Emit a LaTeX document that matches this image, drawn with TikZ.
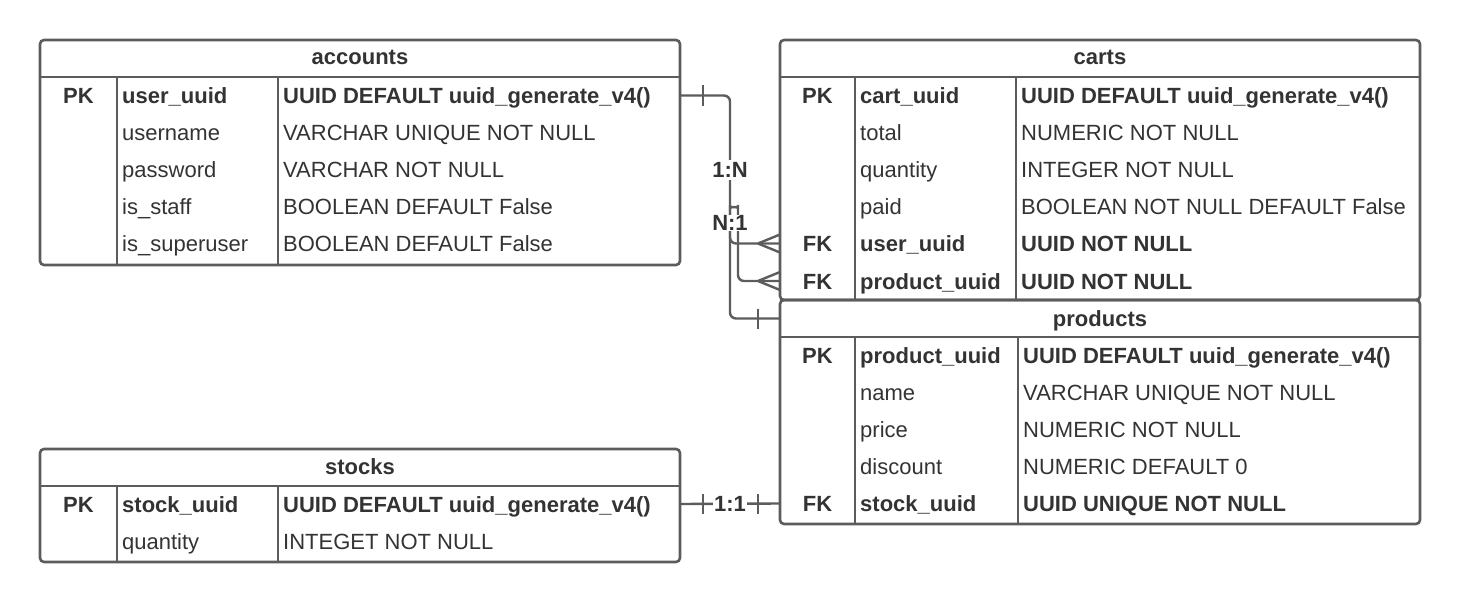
\documentclass[tikz,border=0pt]{standalone}
\usepackage{fontspec}
\setmainfont{Liberation Sans}
\begin{document}
\definecolor{linec}{RGB}{92,92,92}
\definecolor{txt}{RGB}{51,51,51}
\newcommand\erfont{\fontsize{22}{26}\selectfont}
\tikzset{
  frame/.style={draw=linec, line width=2.6pt, rounded corners=4pt},
  grid/.style={draw=linec, line width=2.6pt},
  conn/.style={draw=linec, line width=2.4pt, rounded corners=6pt},
  tick/.style={draw=linec, line width=2.4pt},
  rowbox/.style={anchor=west, inner sep=0pt, minimum height=37pt},
  celltxt/.style={anchor=base west, inner sep=0pt, text=txt, font=\erfont},
  keytxt/.style={anchor=base, inner sep=0pt, text=txt, font=\erfont\bfseries},
  titletxt/.style={anchor=base, inner sep=0pt, text=txt, font=\erfont\bfseries},
  reltxt/.style={fill=white, inner sep=2pt, text=txt, font=\erfont\bfseries},
}
% one table row: prefix, index, y centre, key, column name, column type
\newcommand\erow[6]{%
  \node[rowbox, minimum width={(\xd-\xa)*1pt}] (#1-#2) at (\xa,#3) {};
  \node[keytxt] (#1-#2-k) at ({(\xa+\xb)/2},{#3+8}) {#4};
  \node[celltxt] (#1-#2-n) at ({\xb+5},{#3+8}) {#5};
  \node[celltxt] (#1-#2-t) at ({\xc+5},{#3+8}) {#6};
}
\begin{tikzpicture}[x=1pt, y=-1pt]
\useasboundingbox (0,0) rectangle (1460,602);

% accounts
\def\xa{40}\def\xb{117}\def\xc{278}\def\xd{680}
\draw[frame] (\xa,40) rectangle (\xd,265);
\draw[grid] (\xa,77) -- (\xd,77) (\xb,77) -- (\xb,265) (\xc,77) -- (\xc,265);
\node[titletxt] (acc-h) at (360,65) {accounts};
\erow{acc}{1}{95.5}{PK}{\textbf{user\_uuid}}{\textbf{UUID DEFAULT uuid\_generate\_v4()}}
\erow{acc}{2}{132.5}{}{username}{VARCHAR UNIQUE NOT NULL}
\erow{acc}{3}{169.5}{}{password}{VARCHAR NOT NULL}
\erow{acc}{4}{206.5}{}{is\_staff}{BOOLEAN DEFAULT False}
\erow{acc}{5}{243.5}{}{is\_superuser}{BOOLEAN DEFAULT False}

% stocks
\draw[frame] (\xa,449) rectangle (\xd,562);
\draw[grid] (\xa,486) -- (\xd,486) (\xb,486) -- (\xb,562) (\xc,486) -- (\xc,562);
\node[titletxt] (st-h) at (360,474) {stocks};
\erow{st}{1}{504}{PK}{\textbf{stock\_uuid}}{\textbf{UUID DEFAULT uuid\_generate\_v4()}}
\erow{st}{2}{541}{}{quantity}{INTEGET NOT NULL}

% carts
\def\xa{780}\def\xb{855}\def\xc{1016}\def\xd{1420}
\draw[frame] (\xa,40) rectangle (\xd,300);
\draw[grid] (\xa,77) -- (\xd,77) (\xb,77) -- (\xb,300) (\xc,77) -- (\xc,300);
\node[titletxt] (cart-h) at (1100,65) {carts};
\erow{cart}{1}{95.5}{PK}{\textbf{cart\_uuid}}{\textbf{UUID DEFAULT uuid\_generate\_v4()}}
\erow{cart}{2}{132.5}{}{total}{NUMERIC NOT NULL}
\erow{cart}{3}{169.5}{}{quantity}{INTEGER NOT NULL}
\erow{cart}{4}{206.5}{}{paid}{BOOLEAN NOT NULL DEFAULT False}
\erow{cart}{5}{243.5}{FK}{\textbf{user\_uuid}}{\textbf{UUID NOT NULL}}
\erow{cart}{6}{281}{FK}{\textbf{product\_uuid}}{\textbf{UUID NOT NULL}}

% products
\def\xc{1018}
\draw[frame] (\xa,300) rectangle (\xd,524);
\draw[grid] (\xa,337) -- (\xd,337) (\xb,337) -- (\xb,524) (\xc,337) -- (\xc,524);
\node[rowbox, minimum width=640pt] (prod-hr) at (780,318.5) {};
\node[titletxt] (prod-h) at (1100,326) {products};
\erow{prod}{1}{355.5}{PK}{\textbf{product\_uuid}}{\textbf{UUID DEFAULT uuid\_generate\_v4()}}
\erow{prod}{2}{392.5}{}{name}{VARCHAR UNIQUE NOT NULL}
\erow{prod}{3}{429.5}{}{price}{NUMERIC NOT NULL}
\erow{prod}{4}{466.5}{}{discount}{NUMERIC DEFAULT 0}
\erow{prod}{5}{503.5}{FK}{\textbf{stock\_uuid}}{\textbf{UUID UNIQUE NOT NULL}}

% accounts 1:N carts
\draw[conn] (acc-1.east) -- (730,95.5) -- (730,243.5) -- (cart-5.west);
\draw[tick] (703,85.5) -- (703,105.5);
\draw[tick] (758,243.5) -- (cart-5.west |- 0,234.5) (758,243.5) -- (cart-5.west |- 0,252.5);

% carts N:1 products, hopping over the accounts line
\draw[conn] (cart-6.west) -- (738,281) -- (738,211)
  arc[start angle=0, end angle=180, radius=4pt] -- (730,318.5) -- (prod-hr.west);
\draw[tick] (758,281) -- (cart-6.west |- 0,272) (758,281) -- (cart-6.west |- 0,290);
\draw[tick] (758,308.5) -- (758,328.5);

\node[reltxt] (rel-an) at (730,170) {1:N};
\node[reltxt, inner ysep=0pt] (rel-cp) at (730,223) {N:1};

% stocks 1:1 products
\draw[conn] (st-1.east) -- (prod-5.west);
\draw[tick] (703,494) -- (703,514) (758,494) -- (758,514);
\node[reltxt, inner xsep=1pt] (rel-sp) at (730,504) {1:1};
\end{tikzpicture}
\end{document}
